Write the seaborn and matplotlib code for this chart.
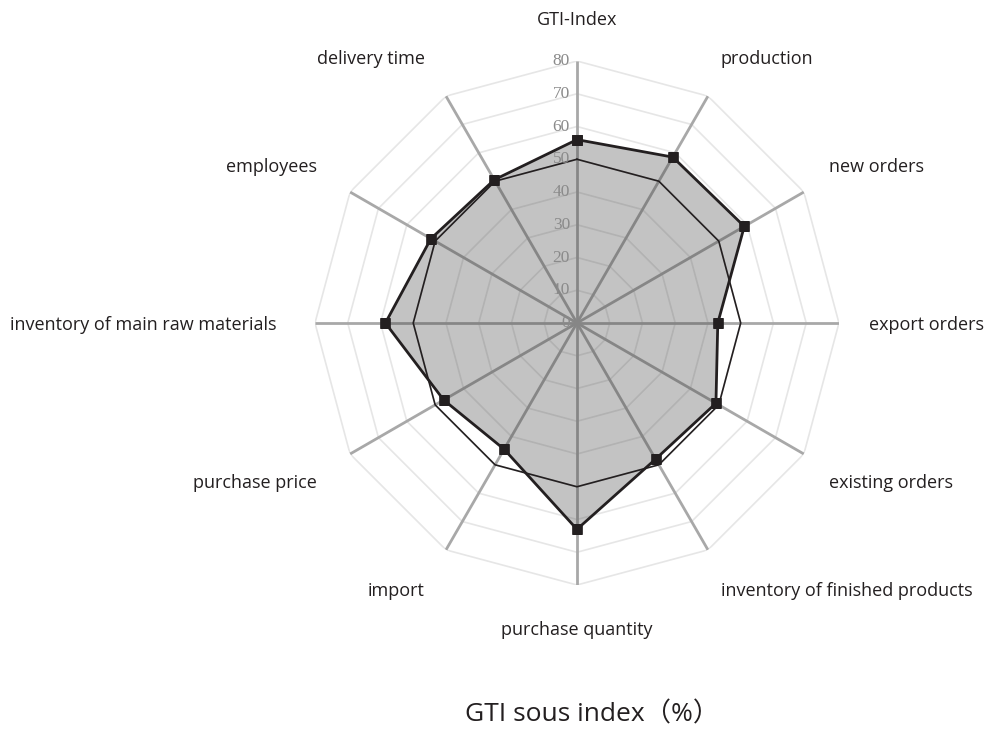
import numpy as np
import pandas as pd
import matplotlib
matplotlib.use("Agg")
import matplotlib.pyplot as plt
import matplotlib.transforms as mtransforms
import seaborn as sns

# Sub-index categories, clockwise from the top
categories = [
    "GTI-Index", "production", "new orders", "export orders",
    "existing orders", "inventory of finished products", "purchase quantity",
    "import", "purchase price", "inventory of main raw materials",
    "employees", "delivery time",
]
sub_index = [56, 58.5, 59, 43, 49, 48, 63, 44.5, 47, 58.5, 51.5, 50.5]
threshold = [50, 50, 50, 50, 50, 50, 50, 50, 50, 50, 50, 50]
radial_ticks = [0, 10, 20, 30, 40, 50, 60, 70, 80]

sns.set_theme(style="white")
plt.rcParams["font.family"] = ["Open Sans", "Noto Sans CJK SC", "DejaVu Sans"]

text_color = "#231f20"

n = len(categories)
theta = np.linspace(0, 2 * np.pi, n, endpoint=False)
theta_closed = np.append(theta, 2 * np.pi)

df = pd.DataFrame({
    "theta": theta_closed,
    "value": sub_index + sub_index[:1],
    "ref": threshold + threshold[:1],
})

fig = plt.figure(figsize=(9.84, 7.44), dpi=100)
ax = fig.add_axes([0.3201, 0.2137, 0.5325, 0.7043], projection="polar")
ax.set_theta_offset(np.pi / 2)
ax.set_theta_direction(-1)
ax.set_ylim(0, radial_ticks[-1])
ax.grid(False)
ax.spines["polar"].set_visible(False)
ax.set_xticks([])
ax.set_yticks([])
ax.set_facecolor("none")

# Polygonal rings
for r in radial_ticks[1:]:
    ax.plot(theta_closed, [r] * (n + 1), color="#e6e6e6", lw=1.2, zorder=1)

# Spokes
for t in theta:
    ax.plot([t, t], [0, radial_ticks[-1]], color="#a8a8a8", lw=2, zorder=2,
            solid_capstyle="butt")

# Shaded area of the sub-indices
ax.fill(df["theta"], df["value"], color="#3a3a3a", alpha=0.3, lw=0, zorder=3)

# 50-point reference line
sns.lineplot(data=df, x="theta", y="ref", sort=False, estimator=None, ax=ax,
             color=text_color, lw=1.2, zorder=4)
# Sub-index line with markers
sns.lineplot(data=df, x="theta", y="value", sort=False, estimator=None, ax=ax,
             color=text_color, lw=2.0, marker="s", markersize=6.5,
             markeredgewidth=0.5, markeredgecolor=text_color, zorder=5)
ax.set_xlabel("")
ax.set_ylabel("")

# Radial tick labels along the top spoke
tick_tr = mtransforms.offset_copy(ax.transData, fig=fig, x=-7, y=0, units="dots")
for r in radial_ticks:
    ax.text(0, r, str(r), transform=tick_tr, ha="right", va="center",
            family="Liberation Serif", fontsize=12.5, color="#8a8a8a", zorder=6)

# Category labels around the chart (pixel offsets from the centre)
rx_px, ry_px, x_shift, y_shift = 296, 305, -4, -2
for t, name in zip(theta, categories):
    s, c = np.sin(t), np.cos(t)
    if abs(s) < 1e-6:
        ha, dx = "center", 0.0
    elif s > 0:
        ha, dx = "left", rx_px * s + x_shift
    else:
        ha, dx = "right", rx_px * s + x_shift
    dy = ry_px * np.sign(c) * abs(c) ** 0.95 + y_shift
    ax.annotate(name, xy=(0, 0), xycoords="data",
                xytext=(dx, dy), textcoords="offset pixels",
                ha=ha, va="center", fontsize=13, color=text_color,
                annotation_clip=False)

fig.text(592 / 984, 1 - 715 / 744, "GTI sous index（%）", ha="center",
         va="center", fontsize=19, color=text_color)

fig.savefig("out.png", dpi=100, facecolor="white")
